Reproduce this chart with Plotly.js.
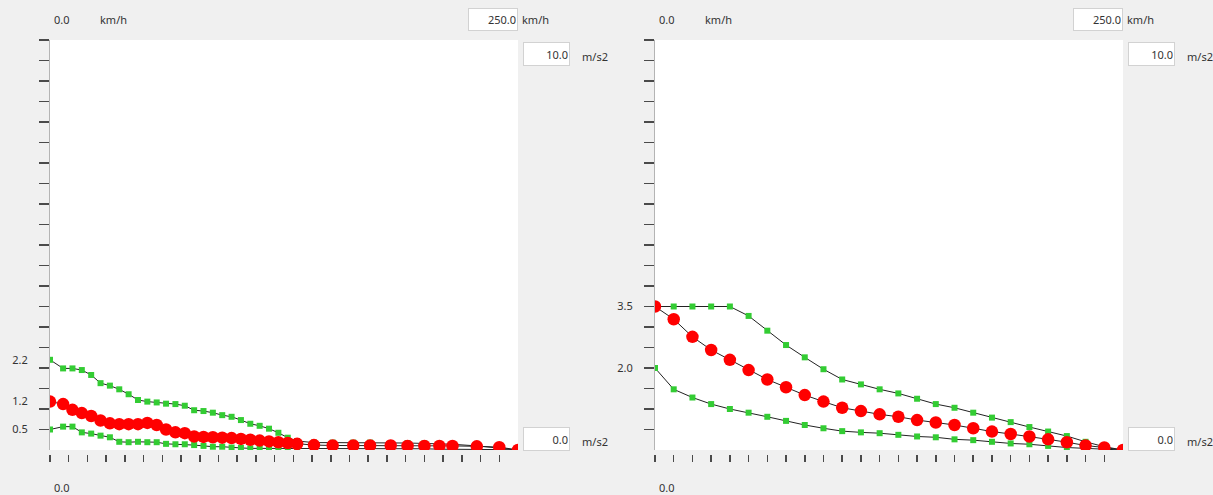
<!DOCTYPE html>
<html><head><meta charset="utf-8">
<script src="https://cdn.plot.ly/plotly-3.0.1.min.js"></script>
<style>html,body{margin:0;padding:0;background:#f0f0f0;}#chart{width:1213px;height:495px;}</style>
</head><body><div id="chart"></div><script>
// ---- data (km/h vs m/s2) ----
const speedL = [0,7,12,17,22,27,32,37,42,47,52,57,62,67,72,77,82,87,92,97,102,107,112,117,122,127,132,141,151,162,171,182,191,200,208,215,228,240,250];
const upperL = [2.2,1.99,1.99,1.95,1.83,1.63,1.57,1.48,1.36,1.22,1.18,1.16,1.13,1.12,1.08,0.97,0.95,0.91,0.85,0.81,0.73,0.64,0.59,0.52,0.42,0.30,0.22,0.18,0.18,0.18,0.18,0.17,0.17,0.16,0.15,0.14,0.10,0.05,0];
const meanL  = [1.18,1.12,0.98,0.9,0.83,0.72,0.65,0.63,0.63,0.63,0.66,0.61,0.50,0.43,0.41,0.33,0.32,0.31,0.30,0.29,0.27,0.25,0.23,0.21,0.19,0.17,0.15,0.12,0.11,0.11,0.11,0.11,0.10,0.10,0.10,0.10,0.09,0.07,0];
const lowerL = [0.5,0.57,0.57,0.43,0.40,0.35,0.31,0.20,0.19,0.20,0.19,0.19,0.15,0.14,0.14,0.12,0.10,0.08,0.08,0.06,0.05,0.04,0.04,0.03,0.03,0.03,0.03,0.03,0.03,0.03,0.03,0.03,0.03,0.03,0.02,0.02,0.02,0.01,0];
const speedR = [0,10,20,30,40,50,60,70,80,90,100,110,120,130,140,150,160,170,180,190,200,210,220,230,240,250];
const upperR = [3.5,3.5,3.5,3.5,3.5,3.27,2.91,2.56,2.26,1.97,1.72,1.60,1.48,1.38,1.25,1.12,1.03,0.91,0.79,0.68,0.56,0.45,0.34,0.20,0.08,0];
const meanR  = [3.5,3.19,2.76,2.44,2.2,1.95,1.72,1.53,1.34,1.18,1.03,0.95,0.87,0.81,0.73,0.67,0.61,0.53,0.45,0.39,0.33,0.26,0.19,0.11,0.06,0];
const lowerR = [2.0,1.48,1.28,1.12,1.0,0.91,0.81,0.71,0.61,0.53,0.46,0.43,0.41,0.37,0.33,0.31,0.26,0.24,0.20,0.16,0.14,0.10,0.06,0.04,0.02,0];
const yTickVals = [0.5,1,1.5,2,2.5,3,3.5,4,4.5,5,5.5,6,6.5,7,7.5,8,8.5,9,9.5,10];
const xTickVals = [0,10,20,30,40,50,60,70,80,90,100,110,120,130,140,150,160,170,180,190,200,210,220,230,240];
const labelsL = [2.2,1.2,0.5];
const labelsR = [3.5,2.0];
const speedMin = 0, speedMax = 250, accMin = 0, accMax = 10;

// ---- layout geometry ----
const W = 1213, H = 495;
const TOP = 40, BOT = 450;
const panels = [{x0:50, x1:518}, {x0:655, x1:1123}];
const px = v => v / W, py = v => 1 - v / H;
const FONT = {family:'"Noto Sans", "DejaVu Sans", sans-serif', size:11, color:'#333'};
const GREEN = '#33cc33', RED = '#ff0000', LINE = {color:'#222222', width:1};

function series(x, y, xa, ya, isMean){
  return {type:'scatter', mode:'lines+markers', x:x, y:y, xaxis:xa, yaxis:ya,
    line:LINE, cliponaxis:true, hoverinfo:'skip',
    marker: isMean ? {symbol:'circle', size:12.5, color:RED}
                   : {symbol:'square', size:6, color:GREEN}};
}
const dummy = (xa, ya) => ({type:'scatter', mode:'markers', x:[null], y:[null], xaxis:xa, yaxis:ya, hoverinfo:'skip'});

const data = [
  series(speedL, upperL, 'x', 'y'), series(speedL, lowerL, 'x', 'y'), series(speedL, meanL, 'x', 'y', true),
  series(speedR, upperR, 'x2', 'y2'), series(speedR, lowerR, 'x2', 'y2'), series(speedR, meanR, 'x2', 'y2', true),
  dummy('x3','y'), dummy('x4','y2'), dummy('x','y3'), dummy('x2','y4')
];

const yDom = [py(BOT), py(TOP)];
function mainX(p, anchor){ return {domain:[px(p.x0), px(p.x1)], range:[speedMin, speedMax], autorange:false, anchor:anchor,
  showticklabels:false, ticks:'', showline:false, showgrid:false, zeroline:false, fixedrange:true}; }
function mainY(anchor){ return {domain:yDom, range:[accMin, accMax], autorange:false, anchor:anchor,
  tickmode:'array', tickvals:yTickVals, ticktext:yTickVals.map(()=>''), ticks:'outside', ticklen:10,
  tickwidth:1.5, tickcolor:'#4a4a4a', showline:true, linecolor:'#b4b4b4', linewidth:1,
  showgrid:false, zeroline:false, fixedrange:true}; }
function tickX(over){ return {overlaying:over, anchor:'free', position:py(454), range:[speedMin, speedMax], autorange:false,
  tickmode:'array', tickvals:xTickVals, ticktext:xTickVals.map(()=>''), ticks:'outside', ticklen:7,
  tickwidth:1.5, tickcolor:'#4a4a4a', showline:false, showgrid:false, zeroline:false, fixedrange:true}; }
function labelY(over, anchor, vals){ return {overlaying:over, anchor:anchor, side:'left', range:[accMin, accMax], autorange:false,
  tickmode:'array', tickvals:vals, ticktext:vals.map(v=>v.toFixed(1)), ticks:'outside', ticklen:19,
  tickcolor:'rgba(0,0,0,0)', tickfont:FONT, showline:false, showgrid:false, zeroline:false, fixedrange:true}; }

const annotations = [];
panels.forEach(p => {
  const o = p.x0;
  const txt = (t, x, y, xa) => annotations.push({text:t, xref:'paper', yref:'paper', x:px(x), y:py(y),
    xanchor:xa||'left', yanchor:'middle', showarrow:false, font:FONT});
  const box = (t, xr, yc, w, h) => annotations.push({text:t, xref:'paper', yref:'paper', x:px(xr), y:py(yc),
    xanchor:'right', yanchor:'middle', showarrow:false, font:FONT, align:'right', width:w, height:h,
    bgcolor:'#ffffff', bordercolor:'#d2d2d2', borderwidth:1, borderpad:1});
  txt('0.0', o + 2, 19);
  txt('km/h', o + 48, 19);
  box('250.0', o + 468, 19, 46, 19);
  txt('km/h', o + 470, 19);
  box('10.0', o + 520, 54, 43, 20);
  txt('m/s2', o + 530, 57);
  box('0.0', o + 520, 439, 43, 20);
  txt('m/s2', o + 530, 441);
  txt('0.0', o + 2, 487);
});

const layout = {
  width:W, height:H, margin:{l:0, r:0, t:0, b:0, pad:0},
  paper_bgcolor:'#f0f0f0', plot_bgcolor:'#ffffff', showlegend:false, hovermode:false, dragmode:false,
  font:FONT,
  xaxis:mainX(panels[0], 'y'), xaxis2:mainX(panels[1], 'y2'),
  yaxis:mainY('x'), yaxis2:mainY('x2'),
  xaxis3:tickX('x'), xaxis4:tickX('x2'),
  yaxis3:labelY('y', 'x', labelsL), yaxis4:labelY('y2', 'x2', labelsR),
  annotations:annotations
};
Plotly.newPlot('chart', data, layout, {displayModeBar:false, staticPlot:true});
</script></body></html>
